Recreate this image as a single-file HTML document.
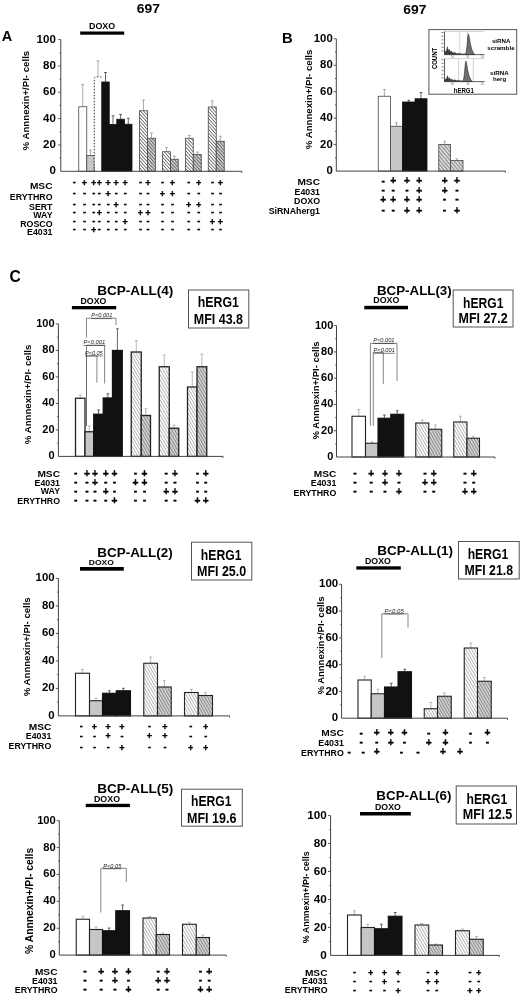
<!DOCTYPE html>
<html lang="en"><head><meta charset="utf-8"><title>Figure</title>
<style>html,body{margin:0;padding:0;background:#fff}svg{display:block}text{font-family:'Liberation Sans', Arial, Helvetica, sans-serif}</style>
</head><body>
<svg width="520" height="995" viewBox="0 0 520 995" font-family='"Liberation Sans", Arial, Helvetica, sans-serif'>
<defs>
<pattern id="hl" width="2.4" height="2.4" patternUnits="userSpaceOnUse" patternTransform="rotate(48)"><rect width="2.4" height="2.4" fill="#ffffff"/><line x1="0" y1="1.2" x2="2.4" y2="1.2" stroke="#2a2a2a" stroke-width="0.6"/></pattern>
<pattern id="hd" width="2.4" height="2.4" patternUnits="userSpaceOnUse" patternTransform="rotate(48)"><rect width="2.4" height="2.4" fill="#cbcbcb"/><line x1="0" y1="1.2" x2="2.4" y2="1.2" stroke="#333" stroke-width="0.6"/></pattern>
<pattern id="hl2" width="2.5" height="2.5" patternUnits="userSpaceOnUse" patternTransform="rotate(60)"><rect width="2.5" height="2.5" fill="#fdfdfd"/><line x1="0" y1="1.25" x2="2.5" y2="1.25" stroke="#7a7a7a" stroke-width="0.5"/></pattern>
<pattern id="hd2" width="2.5" height="2.5" patternUnits="userSpaceOnUse" patternTransform="rotate(60)"><rect width="2.5" height="2.5" fill="#cfcfcf"/><line x1="0" y1="1.25" x2="2.5" y2="1.25" stroke="#5e5e5e" stroke-width="0.55"/></pattern>
<pattern id="hdB" width="5.4" height="5.4" patternUnits="userSpaceOnUse" patternTransform="rotate(50)"><rect width="5.4" height="5.4" fill="#d8d8d8"/><path d="M0 1.35H5.4M0 4.05H5.4" stroke="#505050" stroke-width="0.55"/></pattern>
</defs>
<rect width="520" height="995" fill="#fff"/>
<g id="panelA">
<text x="1.8" y="41.2" font-size="14.5" font-weight="bold" text-anchor="start" fill="#000">A</text>
<text x="136.8" y="13.3" font-size="13.6" font-weight="bold" text-anchor="start" fill="#000" textLength="23.2" lengthAdjust="spacingAndGlyphs">697</text>
<text x="89" y="28.9" font-size="8.8" font-weight="bold" text-anchor="start" fill="#000" textLength="26.2" lengthAdjust="spacingAndGlyphs">DOXO</text>
<rect x="80.2" y="31.5" width="44" height="3.2" fill="#000"/>
<path d="M82.75 106.75V84.5M81.35 84.5H84.15" stroke="#959595" stroke-width="0.8" fill="none"/>
<rect x="78.75" y="106.75" width="8" height="64.55" fill="#fff" stroke="#484848" stroke-width="0.8"/>
<path d="M90.5 155.5V150M89.1 150H91.9" stroke="#959595" stroke-width="0.8" fill="none"/>
<rect x="86.75" y="155.5" width="7.5" height="15.8" fill="#c6c6c6" stroke="#484848" stroke-width="0.8"/>
<path d="M98 76.75V60.75M96.6 60.75H99.4" stroke="#959595" stroke-width="0.8" fill="none"/>
<path d="M94.25 171.3V78.75Q94.25 76.75 96.25 76.75H99.75Q101.75 76.75 101.75 78.75" fill="#fff" stroke="#333" stroke-width="1" stroke-dasharray="1.5 1.5"/>
<path d="M105.5 82V72.5M104.1 72.5H106.9" stroke="#3c3c3c" stroke-width="0.8" fill="none"/>
<rect x="101.75" y="82" width="7.5" height="89.3" fill="#111" stroke="#111" stroke-width="0.8"/>
<path d="M113 124.5V115.75M111.6 115.75H114.4" stroke="#3c3c3c" stroke-width="0.8" fill="none"/>
<rect x="109.25" y="124.5" width="7.5" height="46.8" fill="#111" stroke="#111" stroke-width="0.8"/>
<path d="M120.62 119.25V114.5M119.22 114.5H122.03" stroke="#3c3c3c" stroke-width="0.8" fill="none"/>
<rect x="116.75" y="119.25" width="7.75" height="52.05" fill="#111" stroke="#111" stroke-width="0.8"/>
<path d="M128.25 124.25V118.25M126.85 118.25H129.65" stroke="#3c3c3c" stroke-width="0.8" fill="none"/>
<rect x="124.5" y="124.25" width="7.5" height="47.05" fill="#111" stroke="#111" stroke-width="0.8"/>
<path d="M143.5 110.75V100M142.1 100H144.9" stroke="#959595" stroke-width="0.8" fill="none"/>
<rect x="139.5" y="110.75" width="8" height="60.55" fill="url(#hl)" stroke="#484848" stroke-width="0.8"/>
<path d="M151.5 138.25V133M150.1 133H152.9" stroke="#959595" stroke-width="0.8" fill="none"/>
<rect x="147.5" y="138.25" width="8" height="33.05" fill="url(#hd)" stroke="#484848" stroke-width="0.8"/>
<path d="M166.5 151.75V147.5M165.1 147.5H167.9" stroke="#959595" stroke-width="0.8" fill="none"/>
<rect x="162.5" y="151.75" width="8" height="19.55" fill="url(#hl)" stroke="#484848" stroke-width="0.8"/>
<path d="M174.38 159.25V156.25M172.97 156.25H175.78" stroke="#959595" stroke-width="0.8" fill="none"/>
<rect x="170.5" y="159.25" width="7.75" height="12.05" fill="url(#hd)" stroke="#484848" stroke-width="0.8"/>
<path d="M189.38 138.25V135.5M187.97 135.5H190.78" stroke="#959595" stroke-width="0.8" fill="none"/>
<rect x="185.5" y="138.25" width="7.75" height="33.05" fill="url(#hl)" stroke="#484848" stroke-width="0.8"/>
<path d="M197.25 154.5V152M195.85 152H198.65" stroke="#959595" stroke-width="0.8" fill="none"/>
<rect x="193.25" y="154.5" width="8" height="16.8" fill="url(#hd)" stroke="#484848" stroke-width="0.8"/>
<path d="M212.25 107V100.75M210.85 100.75H213.65" stroke="#959595" stroke-width="0.8" fill="none"/>
<rect x="208.25" y="107" width="8" height="64.3" fill="url(#hl)" stroke="#484848" stroke-width="0.8"/>
<path d="M220.25 141.25V136.25M218.85 136.25H221.65" stroke="#959595" stroke-width="0.8" fill="none"/>
<rect x="216.25" y="141.25" width="8" height="30.05" fill="url(#hd)" stroke="#484848" stroke-width="0.8"/>
<path d="M60.8 39.6V171.3H241.75v1.5" stroke="#444" stroke-width="1" fill="none"/>
<path d="M60.8 158.13h-1.3M60.8 144.96h-2.6M60.8 131.79h-1.3M60.8 118.62h-2.6M60.8 105.45h-1.3M60.8 92.28h-2.6M60.8 79.11h-1.3M60.8 65.94h-2.6M60.8 52.77h-1.3M60.8 39.6h-2.6" stroke="#444" stroke-width="0.9" fill="none"/>
<text x="55.8" y="174.42" font-size="11.5" font-weight="bold" text-anchor="end" fill="#000">0</text>
<text x="55.8" y="148.08" font-size="11.5" font-weight="bold" text-anchor="end" fill="#000">20</text>
<text x="55.8" y="121.74" font-size="11.5" font-weight="bold" text-anchor="end" fill="#000">40</text>
<text x="55.8" y="95.4" font-size="11.5" font-weight="bold" text-anchor="end" fill="#000">60</text>
<text x="55.8" y="69.06" font-size="11.5" font-weight="bold" text-anchor="end" fill="#000">80</text>
<text x="55.8" y="42.72" font-size="11.5" font-weight="bold" text-anchor="end" fill="#000">100</text>
<text transform="translate(29.2,150.4) rotate(-90)" font-size="9.9" font-weight="bold" textLength="99.6" lengthAdjust="spacingAndGlyphs">% Annnexin+/PI- cells</text>
<text x="29.9" y="188.75" font-size="8.8" font-weight="bold" text-anchor="start" fill="#000" textLength="22.6" lengthAdjust="spacingAndGlyphs">MSC</text>
<text x="52.5" y="199.6" font-size="8.8" font-weight="bold" text-anchor="end" fill="#000">ERYTHRO</text>
<text x="52.5" y="210.3" font-size="8.8" font-weight="bold" text-anchor="end" fill="#000">SERT</text>
<text x="52.5" y="218" font-size="8.8" font-weight="bold" text-anchor="end" fill="#000">WAY</text>
<text x="52.5" y="226.9" font-size="8.8" font-weight="bold" text-anchor="end" fill="#000">ROSCO</text>
<text x="52.5" y="235.1" font-size="8.8" font-weight="bold" text-anchor="end" fill="#000">E4031</text>
<g font-size="9.04" font-weight="bold" text-anchor="middle" fill="#000" stroke="#000" stroke-width="0.35"><text x="84.5" y="186.03">+</text><text x="93.75" y="186.03">+</text><text x="99.3" y="186.03">+</text><text x="108.25" y="186.03">+</text><text x="116.25" y="186.03">+</text><text x="125.2" y="186.03">+</text><text x="148" y="186.03">+</text><text x="172.5" y="186.03">+</text><text x="198.75" y="186.03">+</text><text x="220.5" y="186.03">+</text><text x="108.25" y="196.53">+</text><text x="162.5" y="196.53">+</text><text x="172.5" y="196.53">+</text><text x="116.25" y="207.53">+</text><text x="188.75" y="207.53">+</text><text x="198.75" y="207.53">+</text><text x="99.3" y="216.03">+</text><text x="140.5" y="216.03">+</text><text x="148" y="216.03">+</text><text x="125.2" y="225.03">+</text><text x="212.5" y="225.03">+</text><text x="220.5" y="225.03">+</text><text x="93.75" y="233.03">+</text></g>
<g font-size="9.2" font-weight="bold" text-anchor="middle" fill="#000" stroke="#000" stroke-width="0.35"><text x="74.25" y="185.39">-</text><text x="140.5" y="185.39">-</text><text x="162.5" y="185.39">-</text><text x="188.75" y="185.39">-</text><text x="212.5" y="185.39">-</text><text x="74.25" y="195.89">-</text><text x="84.5" y="195.89">-</text><text x="93.75" y="195.89">-</text><text x="99.3" y="195.89">-</text><text x="116.25" y="195.89">-</text><text x="125.2" y="195.89">-</text><text x="140.5" y="195.89">-</text><text x="148" y="195.89">-</text><text x="188.75" y="195.89">-</text><text x="198.75" y="195.89">-</text><text x="212.5" y="195.89">-</text><text x="220.5" y="195.89">-</text><text x="74.25" y="206.89">-</text><text x="84.5" y="206.89">-</text><text x="93.75" y="206.89">-</text><text x="99.3" y="206.89">-</text><text x="108.25" y="206.89">-</text><text x="125.2" y="206.89">-</text><text x="140.5" y="206.89">-</text><text x="148" y="206.89">-</text><text x="162.5" y="206.89">-</text><text x="172.5" y="206.89">-</text><text x="212.5" y="206.89">-</text><text x="220.5" y="206.89">-</text><text x="74.25" y="215.39">-</text><text x="84.5" y="215.39">-</text><text x="93.75" y="215.39">-</text><text x="108.25" y="215.39">-</text><text x="116.25" y="215.39">-</text><text x="125.2" y="215.39">-</text><text x="162.5" y="215.39">-</text><text x="172.5" y="215.39">-</text><text x="188.75" y="215.39">-</text><text x="198.75" y="215.39">-</text><text x="212.5" y="215.39">-</text><text x="220.5" y="215.39">-</text><text x="74.25" y="224.39">-</text><text x="84.5" y="224.39">-</text><text x="93.75" y="224.39">-</text><text x="99.3" y="224.39">-</text><text x="108.25" y="224.39">-</text><text x="116.25" y="224.39">-</text><text x="140.5" y="224.39">-</text><text x="148" y="224.39">-</text><text x="162.5" y="224.39">-</text><text x="172.5" y="224.39">-</text><text x="188.75" y="224.39">-</text><text x="198.75" y="224.39">-</text><text x="74.25" y="232.39">-</text><text x="84.5" y="232.39">-</text><text x="99.3" y="232.39">-</text><text x="108.25" y="232.39">-</text><text x="116.25" y="232.39">-</text><text x="125.2" y="232.39">-</text><text x="140.5" y="232.39">-</text><text x="148" y="232.39">-</text><text x="162.5" y="232.39">-</text><text x="172.5" y="232.39">-</text><text x="188.75" y="232.39">-</text><text x="198.75" y="232.39">-</text><text x="212.5" y="232.39">-</text><text x="220.5" y="232.39">-</text></g>
</g>
<g id="panelB">
<text x="282" y="42.6" font-size="14.8" font-weight="bold" text-anchor="start" fill="#000">B</text>
<text x="403.2" y="13.5" font-size="13.6" font-weight="bold" text-anchor="start" fill="#000" textLength="23.2" lengthAdjust="spacingAndGlyphs">697</text>
<path d="M384.38 96.25V89.5M382.98 89.5H385.77" stroke="#959595" stroke-width="0.8" fill="none"/>
<rect x="378.25" y="96.25" width="12.25" height="74.85" fill="#fff" stroke="#484848" stroke-width="0.8"/>
<path d="M396.5 126.25V122.75M395.1 122.75H397.9" stroke="#959595" stroke-width="0.8" fill="none"/>
<rect x="390.5" y="126.25" width="12" height="44.85" fill="#c6c6c6" stroke="#484848" stroke-width="0.8"/>
<path d="M408.75 102V100.3M407.35 100.3H410.15" stroke="#3c3c3c" stroke-width="0.8" fill="none"/>
<rect x="402.5" y="102" width="12.5" height="69.1" fill="#111" stroke="#111" stroke-width="0.8"/>
<path d="M421 98.75V92.5M419.6 92.5H422.4" stroke="#3c3c3c" stroke-width="0.8" fill="none"/>
<rect x="415" y="98.75" width="12" height="72.35" fill="#111" stroke="#111" stroke-width="0.8"/>
<path d="M444.68 144.5V141.25M443.28 141.25H446.07" stroke="#959595" stroke-width="0.8" fill="none"/>
<rect x="438.75" y="144.5" width="11.85" height="26.6" fill="url(#hdB)" stroke="#484848" stroke-width="0.8"/>
<path d="M456.8 160.5V158.75M455.4 158.75H458.2" stroke="#959595" stroke-width="0.8" fill="none"/>
<rect x="450.6" y="160.5" width="12.4" height="10.6" fill="url(#hdB)" stroke="#484848" stroke-width="0.8"/>
<path d="M336.3 38.8V171.1H505.4v1.5" stroke="#444" stroke-width="1" fill="none"/>
<path d="M336.3 157.87h-1.3M336.3 144.64h-2.6M336.3 131.41h-1.3M336.3 118.18h-2.6M336.3 104.95h-1.3M336.3 91.72h-2.6M336.3 78.49h-1.3M336.3 65.26h-2.6M336.3 52.03h-1.3M336.3 38.8h-2.6" stroke="#444" stroke-width="0.9" fill="none"/>
<text x="332.7" y="174.15" font-size="11.3" font-weight="bold" text-anchor="end" fill="#000">0</text>
<text x="332.7" y="147.69" font-size="11.3" font-weight="bold" text-anchor="end" fill="#000">20</text>
<text x="332.7" y="121.23" font-size="11.3" font-weight="bold" text-anchor="end" fill="#000">40</text>
<text x="332.7" y="94.77" font-size="11.3" font-weight="bold" text-anchor="end" fill="#000">60</text>
<text x="332.7" y="68.31" font-size="11.3" font-weight="bold" text-anchor="end" fill="#000">80</text>
<text x="332.7" y="41.85" font-size="11.3" font-weight="bold" text-anchor="end" fill="#000">100</text>
<text transform="translate(312.1,149.2) rotate(-90)" font-size="9.9" font-weight="bold" textLength="99.6" lengthAdjust="spacingAndGlyphs">% Annnexin+/PI- cells</text>
<text x="297.4" y="185" font-size="8.8" font-weight="bold" text-anchor="start" fill="#000" textLength="22.6" lengthAdjust="spacingAndGlyphs">MSC</text>
<text x="320" y="194.5" font-size="8.8" font-weight="bold" text-anchor="end" fill="#000">E4031</text>
<text x="320" y="204.25" font-size="8.8" font-weight="bold" text-anchor="end" fill="#000">DOXO</text>
<text x="320" y="214.25" font-size="8.8" font-weight="bold" text-anchor="end" fill="#000">SiRNAherg1</text>
<g font-size="10.17" font-weight="bold" text-anchor="middle" fill="#000" stroke="#000" stroke-width="0.35"><text x="393.25" y="184.41">+</text><text x="407" y="184.41">+</text><text x="419.25" y="184.41">+</text><text x="444.6" y="184.41">+</text><text x="456.9" y="184.41">+</text><text x="419.25" y="193.71">+</text><text x="444.6" y="193.71">+</text><text x="383.25" y="202.91">+</text><text x="393.25" y="202.91">+</text><text x="407" y="202.91">+</text><text x="419.25" y="202.91">+</text><text x="407" y="213.61">+</text><text x="419.25" y="213.61">+</text><text x="456.9" y="213.61">+</text></g>
<g font-size="10.35" font-weight="bold" text-anchor="middle" fill="#000" stroke="#000" stroke-width="0.35"><text x="383.25" y="183.69">-</text><text x="383.25" y="192.99">-</text><text x="393.25" y="192.99">-</text><text x="407" y="192.99">-</text><text x="456.9" y="192.99">-</text><text x="444.6" y="202.19">-</text><text x="456.9" y="202.19">-</text><text x="383.25" y="212.89">-</text><text x="393.25" y="212.89">-</text><text x="444.6" y="212.89">-</text></g>
<rect x="428.9" y="29.6" width="87.8" height="64.6" fill="#fff" stroke="#555" stroke-width="1"/>
<path d="M444.5 31.5H484.5" stroke="#bbb" stroke-width="0.6" fill="none"/>
<path d="M459.8 31.5V54.6" stroke="#b4b4b4" stroke-width="0.6"/>
<path d="M467.6 31.5V54.6" stroke="#b4b4b4" stroke-width="0.6"/>
<path d="M444.5 54.6V50.6L445.5 51.8L446.5 50.2L447.5 46.6L448.3 51L449.3 49L450.3 51.8L451.5 51L453 53L454.5 52.2L456.5 53.6L459.5 53.4L462.5 54L464.5 53.8L465.5 54.6Z" fill="#3c3c3c" stroke="#333" stroke-width="0.4"/>
<path d="M465.3 54.6L466.3 51.6L467.1 44.6L467.8 36.5L468.5 33.9L469.3 37.5L470.3 43.6L471.5 48.6L472.9 52.1L474.7 54.6Z" fill="#6e6e6e" stroke="#2c2c2c" stroke-width="0.6"/>
<path d="M444.5 31.5V54.6H484.5" stroke="#333" stroke-width="0.8" fill="none"/>
<path d="M443.5 32.5h-2M443.5 36.18h-2M443.5 39.87h-2M443.5 43.55h-2M443.5 47.23h-2M443.5 50.92h-2" stroke="#444" stroke-width="0.7" fill="none"/>
<text x="452.5" y="57.7" font-size="2.6" font-weight="normal" text-anchor="middle" fill="#555">10</text>
<text x="467.8" y="57.7" font-size="2.6" font-weight="normal" text-anchor="middle" fill="#555">10</text>
<text x="482.5" y="57.7" font-size="2.6" font-weight="normal" text-anchor="middle" fill="#555">10</text>
<path d="M444.5 58.6H484.5" stroke="#bbb" stroke-width="0.6" fill="none"/>
<path d="M458.6 58.6V81.6" stroke="#b4b4b4" stroke-width="0.6"/>
<path d="M473.4 58.6V81.6" stroke="#b4b4b4" stroke-width="0.6"/>
<path d="M444.5 81.6V78.6L445.5 79.5L446.5 78.3L447.5 75.6L448.3 78.9L449.3 77.4L450.3 79.5L451.5 78.9L453 80.4L454.5 79.8L456.5 80.6L459.5 80.4L462.5 81L462 80.8L463 81.6Z" fill="#3c3c3c" stroke="#333" stroke-width="0.4"/>
<path d="M462.8 81.6L463.8 78.6L464.6 71.6L465.3 63.6L466 61L466.8 64.6L467.8 70.6L469 75.6L470.4 79.1L472.2 81.6Z" fill="#6e6e6e" stroke="#2c2c2c" stroke-width="0.6"/>
<path d="M444.5 58.6V81.6H484.5" stroke="#333" stroke-width="0.8" fill="none"/>
<path d="M443.5 59.6h-2M443.5 63.27h-2M443.5 66.93h-2M443.5 70.6h-2M443.5 74.27h-2M443.5 77.93h-2" stroke="#444" stroke-width="0.7" fill="none"/>
<text x="452.5" y="84.7" font-size="2.6" font-weight="normal" text-anchor="middle" fill="#555">10</text>
<text x="467.8" y="84.7" font-size="2.6" font-weight="normal" text-anchor="middle" fill="#555">10</text>
<text x="482.5" y="84.7" font-size="2.6" font-weight="normal" text-anchor="middle" fill="#555">10</text>
<text transform="translate(436.6,69.1) rotate(-90)" font-size="7" font-weight="bold" textLength="21.2" lengthAdjust="spacingAndGlyphs">COUNT</text>
<text x="453.7" y="93" font-size="6.8" font-weight="bold" text-anchor="start" fill="#000" textLength="20.3" lengthAdjust="spacingAndGlyphs">hERG1</text>
<text x="491.9" y="42.6" font-size="6.1" font-weight="bold" text-anchor="start" fill="#000" textLength="18.5" lengthAdjust="spacingAndGlyphs">siRNA</text>
<text x="487.3" y="49.5" font-size="6.1" font-weight="bold" text-anchor="start" fill="#000" textLength="27.3" lengthAdjust="spacingAndGlyphs">scramble</text>
<text x="490" y="74.5" font-size="6.1" font-weight="bold" text-anchor="start" fill="#000" textLength="18.8" lengthAdjust="spacingAndGlyphs">siRNA</text>
<text x="493" y="81" font-size="6.1" font-weight="bold" text-anchor="start" fill="#000" textLength="13.2" lengthAdjust="spacingAndGlyphs">herg</text>
</g>
<g id="panelC4">
<text x="9.6" y="282" font-size="15.6" font-weight="bold" text-anchor="start" fill="#000">C</text>
<text x="97.2" y="294.5" font-size="13.4" font-weight="bold" text-anchor="start" fill="#000" textLength="76.1" lengthAdjust="spacingAndGlyphs">BCP-ALL(4)</text>
<text x="80.5" y="303.8" font-size="8.4" font-weight="bold" text-anchor="start" fill="#000" textLength="25.8" lengthAdjust="spacingAndGlyphs">DOXO</text>
<rect x="71.9" y="306" width="44.3" height="3.3" fill="#000"/>
<rect x="188.5" y="290" width="60.3" height="38" fill="#fff" stroke="#555" stroke-width="1"/>
<text x="197.7" y="306.9" font-size="14.3" font-weight="bold" text-anchor="start" fill="#000" textLength="41.2" lengthAdjust="spacingAndGlyphs">hERG1</text>
<text x="193.8" y="323.5" font-size="14.3" font-weight="bold" text-anchor="start" fill="#000" textLength="49.2" lengthAdjust="spacingAndGlyphs">MFI 43.8</text>
<path d="M86.5 337.6V318.2H116V325" stroke="#666" stroke-width="0.8" fill="none"/>
<text x="91.3" y="317.49" font-size="5.8" font-weight="normal" text-anchor="start" fill="#222" textLength="21" lengthAdjust="spacingAndGlyphs" font-style="italic" text-decoration="underline">P&lt;0.001</text>
<path d="M86.5 426V345.2H104.6V383.5" stroke="#666" stroke-width="0.8" fill="none"/>
<text x="83.5" y="344.39" font-size="5.8" font-weight="normal" text-anchor="start" fill="#222" textLength="21.7" lengthAdjust="spacingAndGlyphs" font-style="italic" text-decoration="underline">P&lt;0.001</text>
<path d="M86.5 426V355.8H96.9V382.7" stroke="#666" stroke-width="0.8" fill="none"/>
<text x="85" y="354.69" font-size="5.8" font-weight="normal" text-anchor="start" fill="#222" textLength="17.7" lengthAdjust="spacingAndGlyphs" font-style="italic" text-decoration="underline">P&lt;0.05</text>
<path d="M80.25 398.25V395M78.85 395H81.65" stroke="#a4a4a4" stroke-width="0.8" fill="none"/>
<rect x="75.5" y="398.25" width="9.5" height="58.15" fill="#fff" stroke="#222" stroke-width="1.3"/>
<path d="M89.38 431.75V426M87.97 426H90.78" stroke="#a4a4a4" stroke-width="0.8" fill="none"/>
<rect x="85" y="431.75" width="8.75" height="24.65" fill="#c6c6c6" stroke="#222" stroke-width="1.3"/>
<path d="M98.5 414.25V410M97.1 410H99.9" stroke="#3c3c3c" stroke-width="0.8" fill="none"/>
<rect x="93.75" y="414.25" width="9.5" height="42.15" fill="#111" stroke="#111" stroke-width="1.3"/>
<path d="M107.88 398V393.75M106.47 393.75H109.28" stroke="#3c3c3c" stroke-width="0.8" fill="none"/>
<rect x="103.25" y="398" width="9.25" height="58.4" fill="#111" stroke="#111" stroke-width="1.3"/>
<path d="M117.38 350.5V328.75M115.97 328.75H118.78" stroke="#3c3c3c" stroke-width="0.8" fill="none"/>
<rect x="112.5" y="350.5" width="9.75" height="105.9" fill="#111" stroke="#111" stroke-width="1.3"/>
<path d="M136.25 352V340.5M134.85 340.5H137.65" stroke="#a4a4a4" stroke-width="0.8" fill="none"/>
<rect x="131.25" y="352" width="10" height="104.4" fill="url(#hl2)" stroke="#222" stroke-width="1.3"/>
<path d="M145.88 415.5V408.75M144.47 408.75H147.28" stroke="#a4a4a4" stroke-width="0.8" fill="none"/>
<rect x="141.25" y="415.5" width="9.25" height="40.9" fill="url(#hd2)" stroke="#222" stroke-width="1.3"/>
<path d="M164.25 366.75V355M162.85 355H165.65" stroke="#a4a4a4" stroke-width="0.8" fill="none"/>
<rect x="159.25" y="366.75" width="10" height="89.65" fill="url(#hl2)" stroke="#222" stroke-width="1.3"/>
<path d="M174 428.25V425M172.6 425H175.4" stroke="#a4a4a4" stroke-width="0.8" fill="none"/>
<rect x="169.25" y="428.25" width="9.5" height="28.15" fill="url(#hd2)" stroke="#222" stroke-width="1.3"/>
<path d="M192.25 387V372M190.85 372H193.65" stroke="#a4a4a4" stroke-width="0.8" fill="none"/>
<rect x="187.5" y="387" width="9.5" height="69.4" fill="url(#hl2)" stroke="#222" stroke-width="1.3"/>
<path d="M201.88 366.75V354.25M200.47 354.25H203.28" stroke="#a4a4a4" stroke-width="0.8" fill="none"/>
<rect x="197" y="366.75" width="9.75" height="89.65" fill="url(#hd2)" stroke="#222" stroke-width="1.3"/>
<path d="M58.4 323.9V456.4H223v1.5" stroke="#444" stroke-width="1" fill="none"/>
<path d="M58.4 443.15h-1.3M58.4 429.9h-2.6M58.4 416.65h-1.3M58.4 403.4h-2.6M58.4 390.15h-1.3M58.4 376.9h-2.6M58.4 363.65h-1.3M58.4 350.4h-2.6M58.4 337.15h-1.3M58.4 323.9h-2.6" stroke="#444" stroke-width="0.9" fill="none"/>
<text x="54.6" y="459.34" font-size="11" font-weight="bold" text-anchor="end" fill="#000">0</text>
<text x="54.6" y="432.84" font-size="11" font-weight="bold" text-anchor="end" fill="#000">20</text>
<text x="54.6" y="406.34" font-size="11" font-weight="bold" text-anchor="end" fill="#000">40</text>
<text x="54.6" y="379.84" font-size="11" font-weight="bold" text-anchor="end" fill="#000">60</text>
<text x="54.6" y="353.34" font-size="11" font-weight="bold" text-anchor="end" fill="#000">80</text>
<text x="54.6" y="326.84" font-size="11" font-weight="bold" text-anchor="end" fill="#000">100</text>
<text transform="translate(31.2,444.2) rotate(-90)" font-size="9.9" font-weight="bold" textLength="99.6" lengthAdjust="spacingAndGlyphs">% Annnexin+/PI- cells</text>
<text x="37.4" y="476.75" font-size="8.8" font-weight="bold" text-anchor="start" fill="#000" textLength="22.6" lengthAdjust="spacingAndGlyphs">MSC</text>
<text x="60" y="485.5" font-size="8.8" font-weight="bold" text-anchor="end" fill="#000">E4031</text>
<text x="60" y="493.75" font-size="8.8" font-weight="bold" text-anchor="end" fill="#000">WAY</text>
<text x="60" y="503.75" font-size="8.8" font-weight="bold" text-anchor="end" fill="#000">ERYTHRO</text>
<g font-size="10.17" font-weight="bold" text-anchor="middle" fill="#000" stroke="#000" stroke-width="0.35"><text x="87" y="476.91">+</text><text x="95" y="476.91">+</text><text x="105.75" y="476.91">+</text><text x="114.5" y="476.91">+</text><text x="144.5" y="476.91">+</text><text x="175" y="476.91">+</text><text x="205.75" y="476.91">+</text><text x="95" y="485.66">+</text><text x="135.5" y="485.66">+</text><text x="144.5" y="485.66">+</text><text x="105.75" y="495.16">+</text><text x="166.25" y="495.16">+</text><text x="175" y="495.16">+</text><text x="114.5" y="504.01">+</text><text x="197.5" y="504.01">+</text><text x="205.75" y="504.01">+</text></g>
<g font-size="10.35" font-weight="bold" text-anchor="middle" fill="#000" stroke="#000" stroke-width="0.35"><text x="75.75" y="476.19">-</text><text x="135.5" y="476.19">-</text><text x="166.25" y="476.19">-</text><text x="197.5" y="476.19">-</text><text x="75.75" y="484.94">-</text><text x="87" y="484.94">-</text><text x="105.75" y="484.94">-</text><text x="114.5" y="484.94">-</text><text x="166.25" y="484.94">-</text><text x="175" y="484.94">-</text><text x="197.5" y="484.94">-</text><text x="205.75" y="484.94">-</text><text x="75.75" y="494.44">-</text><text x="87" y="494.44">-</text><text x="95" y="494.44">-</text><text x="114.5" y="494.44">-</text><text x="135.5" y="494.44">-</text><text x="144.5" y="494.44">-</text><text x="197.5" y="494.44">-</text><text x="205.75" y="494.44">-</text><text x="75.75" y="503.29">-</text><text x="87" y="503.29">-</text><text x="95" y="503.29">-</text><text x="105.75" y="503.29">-</text><text x="135.5" y="503.29">-</text><text x="144.5" y="503.29">-</text><text x="166.25" y="503.29">-</text><text x="175" y="503.29">-</text></g>
</g>
<g id="panelC3">
<text x="377" y="294.8" font-size="13.4" font-weight="bold" text-anchor="start" fill="#000" textLength="74.7" lengthAdjust="spacingAndGlyphs">BCP-ALL(3)</text>
<text x="373.3" y="303.3" font-size="8.4" font-weight="bold" text-anchor="start" fill="#000" textLength="26" lengthAdjust="spacingAndGlyphs">DOXO</text>
<rect x="364.3" y="305.8" width="43.7" height="3.5" fill="#000"/>
<rect x="453.2" y="290" width="59.8" height="37" fill="#fff" stroke="#555" stroke-width="1"/>
<text x="463" y="307.5" font-size="14.3" font-weight="bold" text-anchor="start" fill="#000" textLength="40.4" lengthAdjust="spacingAndGlyphs">hERG1</text>
<text x="458.5" y="323" font-size="14.3" font-weight="bold" text-anchor="start" fill="#000" textLength="49.2" lengthAdjust="spacingAndGlyphs">MFI 27.2</text>
<path d="M370.4 425.8V343.3H397V380.8" stroke="#666" stroke-width="0.8" fill="none"/>
<text x="373.3" y="342.29" font-size="5.8" font-weight="normal" text-anchor="start" fill="#222" textLength="21.2" lengthAdjust="spacingAndGlyphs" font-style="italic" text-decoration="underline">P&lt;0.001</text>
<path d="M373.3 425.8V352.5H383.3V383.8" stroke="#666" stroke-width="0.8" fill="none"/>
<text x="373.6" y="351.89" font-size="5.8" font-weight="normal" text-anchor="start" fill="#222" textLength="21.2" lengthAdjust="spacingAndGlyphs" font-style="italic" text-decoration="underline">P&lt;0.001</text>
<path d="M358.75 416.25V409.5M357.35 409.5H360.15" stroke="#a4a4a4" stroke-width="0.8" fill="none"/>
<rect x="352" y="416.25" width="13.5" height="40.75" fill="#fff" stroke="#222" stroke-width="1.1"/>
<path d="M371.75 443.25V441.8M370.35 441.8H373.15" stroke="#a4a4a4" stroke-width="0.8" fill="none"/>
<rect x="365.5" y="443.25" width="12.5" height="13.75" fill="#c6c6c6" stroke="#222" stroke-width="1.1"/>
<path d="M384.38 418.25V415M382.98 415H385.77" stroke="#3c3c3c" stroke-width="0.8" fill="none"/>
<rect x="378" y="418.25" width="12.75" height="38.75" fill="#111" stroke="#111" stroke-width="1.1"/>
<path d="M397.25 414.25V410.75M395.85 410.75H398.65" stroke="#3c3c3c" stroke-width="0.8" fill="none"/>
<rect x="390.75" y="414.25" width="13" height="42.75" fill="#111" stroke="#111" stroke-width="1.1"/>
<path d="M422.25 423V420M420.85 420H423.65" stroke="#a4a4a4" stroke-width="0.8" fill="none"/>
<rect x="415.75" y="423" width="13" height="34" fill="url(#hl2)" stroke="#222" stroke-width="1.1"/>
<path d="M435.25 429.25V425M433.85 425H436.65" stroke="#a4a4a4" stroke-width="0.8" fill="none"/>
<rect x="428.75" y="429.25" width="13" height="27.75" fill="url(#hd2)" stroke="#222" stroke-width="1.1"/>
<path d="M460.38 422V416.25M458.98 416.25H461.77" stroke="#a4a4a4" stroke-width="0.8" fill="none"/>
<rect x="453.75" y="422" width="13.25" height="35" fill="url(#hl2)" stroke="#222" stroke-width="1.1"/>
<path d="M473.25 438.25V436.25M471.85 436.25H474.65" stroke="#a4a4a4" stroke-width="0.8" fill="none"/>
<rect x="467" y="438.25" width="12.5" height="18.75" fill="url(#hd2)" stroke="#222" stroke-width="1.1"/>
<path d="M336.5 325.6V457H495v1.5" stroke="#444" stroke-width="1" fill="none"/>
<path d="M336.5 443.86h-1.3M336.5 430.72h-2.6M336.5 417.58h-1.3M336.5 404.44h-2.6M336.5 391.3h-1.3M336.5 378.16h-2.6M336.5 365.02h-1.3M336.5 351.88h-2.6M336.5 338.74h-1.3M336.5 325.6h-2.6" stroke="#444" stroke-width="0.9" fill="none"/>
<text x="333.3" y="459.94" font-size="11" font-weight="bold" text-anchor="end" fill="#000">0</text>
<text x="333.3" y="433.66" font-size="11" font-weight="bold" text-anchor="end" fill="#000">20</text>
<text x="333.3" y="407.38" font-size="11" font-weight="bold" text-anchor="end" fill="#000">40</text>
<text x="333.3" y="381.1" font-size="11" font-weight="bold" text-anchor="end" fill="#000">60</text>
<text x="333.3" y="354.82" font-size="11" font-weight="bold" text-anchor="end" fill="#000">80</text>
<text x="333.3" y="328.54" font-size="11" font-weight="bold" text-anchor="end" fill="#000">100</text>
<text transform="translate(318.7,439.4) rotate(-90)" font-size="9.9" font-weight="bold" textLength="98" lengthAdjust="spacingAndGlyphs">% Annnexin+/PI- cells</text>
<text x="313.7" y="476.75" font-size="8.8" font-weight="bold" text-anchor="start" fill="#000" textLength="22.6" lengthAdjust="spacingAndGlyphs">MSC</text>
<text x="336.3" y="485.5" font-size="8.8" font-weight="bold" text-anchor="end" fill="#000">E4031</text>
<text x="336.3" y="495.75" font-size="8.8" font-weight="bold" text-anchor="end" fill="#000">ERYTHRO</text>
<g font-size="10.17" font-weight="bold" text-anchor="middle" fill="#000" stroke="#000" stroke-width="0.35"><text x="371.25" y="477.16">+</text><text x="385" y="477.16">+</text><text x="398.9" y="477.16">+</text><text x="433.75" y="477.16">+</text><text x="473.75" y="477.16">+</text><text x="385" y="485.91">+</text><text x="425" y="485.91">+</text><text x="433.75" y="485.91">+</text><text x="398.9" y="495.16">+</text><text x="465" y="495.16">+</text><text x="473.75" y="495.16">+</text></g>
<g font-size="10.35" font-weight="bold" text-anchor="middle" fill="#000" stroke="#000" stroke-width="0.35"><text x="355" y="476.44">-</text><text x="425" y="476.44">-</text><text x="465" y="476.44">-</text><text x="355" y="485.19">-</text><text x="371.25" y="485.19">-</text><text x="398.9" y="485.19">-</text><text x="465" y="485.19">-</text><text x="473.75" y="485.19">-</text><text x="355" y="494.44">-</text><text x="371.25" y="494.44">-</text><text x="385" y="494.44">-</text><text x="425" y="494.44">-</text><text x="433.75" y="494.44">-</text></g>
</g>
<g id="panelC2">
<text x="97.3" y="556.5" font-size="13.4" font-weight="bold" text-anchor="start" fill="#000" textLength="75.4" lengthAdjust="spacingAndGlyphs">BCP-ALL(2)</text>
<text x="88.8" y="565" font-size="7.8" font-weight="bold" text-anchor="start" fill="#000" textLength="25" lengthAdjust="spacingAndGlyphs">DOXO</text>
<rect x="80" y="567" width="43.8" height="3.7" fill="#000"/>
<rect x="191.5" y="542.2" width="60.3" height="37.8" fill="#fff" stroke="#555" stroke-width="1"/>
<text x="200.8" y="559.6" font-size="14.3" font-weight="bold" text-anchor="start" fill="#000" textLength="40.7" lengthAdjust="spacingAndGlyphs">hERG1</text>
<text x="197" y="575.8" font-size="14.3" font-weight="bold" text-anchor="start" fill="#000" textLength="49.2" lengthAdjust="spacingAndGlyphs">MFI 25.0</text>
<path d="M82.5 673.25V669.5M81.1 669.5H83.9" stroke="#a4a4a4" stroke-width="0.8" fill="none"/>
<rect x="75.5" y="673.25" width="14" height="42.65" fill="#fff" stroke="#222" stroke-width="1.1"/>
<path d="M96 700.75V698.25M94.6 698.25H97.4" stroke="#a4a4a4" stroke-width="0.8" fill="none"/>
<rect x="89.5" y="700.75" width="13" height="15.15" fill="#c6c6c6" stroke="#222" stroke-width="1.1"/>
<path d="M109.38 693.25V690.75M107.97 690.75H110.78" stroke="#3c3c3c" stroke-width="0.8" fill="none"/>
<rect x="102.5" y="693.25" width="13.75" height="22.65" fill="#111" stroke="#111" stroke-width="1.1"/>
<path d="M123.38 690.75V688.25M121.97 688.25H124.78" stroke="#3c3c3c" stroke-width="0.8" fill="none"/>
<rect x="116.25" y="690.75" width="14.25" height="25.15" fill="#111" stroke="#111" stroke-width="1.1"/>
<path d="M150.62 663.25V657M149.22 657H152.03" stroke="#a4a4a4" stroke-width="0.8" fill="none"/>
<rect x="143.75" y="663.25" width="13.75" height="52.65" fill="url(#hl2)" stroke="#222" stroke-width="1.1"/>
<path d="M164.38 687V680.5M162.97 680.5H165.78" stroke="#a4a4a4" stroke-width="0.8" fill="none"/>
<rect x="157.5" y="687" width="13.75" height="28.9" fill="url(#hd2)" stroke="#222" stroke-width="1.1"/>
<path d="M191.38 692.5V689.5M189.97 689.5H192.78" stroke="#a4a4a4" stroke-width="0.8" fill="none"/>
<rect x="184.5" y="692.5" width="13.75" height="23.4" fill="url(#hl2)" stroke="#222" stroke-width="1.1"/>
<path d="M205.38 695.5V692.5M203.97 692.5H206.78" stroke="#a4a4a4" stroke-width="0.8" fill="none"/>
<rect x="198.25" y="695.5" width="14.25" height="20.4" fill="url(#hd2)" stroke="#222" stroke-width="1.1"/>
<path d="M58.4 578.4V715.9H229.5v1.5" stroke="#444" stroke-width="1" fill="none"/>
<path d="M58.4 702.15h-1.3M58.4 688.4h-2.6M58.4 674.65h-1.3M58.4 660.9h-2.6M58.4 647.15h-1.3M58.4 633.4h-2.6M58.4 619.65h-1.3M58.4 605.9h-2.6M58.4 592.15h-1.3M58.4 578.4h-2.6" stroke="#444" stroke-width="0.9" fill="none"/>
<text x="54.6" y="718.98" font-size="11.4" font-weight="bold" text-anchor="end" fill="#000">0</text>
<text x="54.6" y="691.48" font-size="11.4" font-weight="bold" text-anchor="end" fill="#000">20</text>
<text x="54.6" y="663.98" font-size="11.4" font-weight="bold" text-anchor="end" fill="#000">40</text>
<text x="54.6" y="636.48" font-size="11.4" font-weight="bold" text-anchor="end" fill="#000">60</text>
<text x="54.6" y="608.98" font-size="11.4" font-weight="bold" text-anchor="end" fill="#000">80</text>
<text x="54.6" y="581.48" font-size="11.4" font-weight="bold" text-anchor="end" fill="#000">100</text>
<text transform="translate(30,696.2) rotate(-90)" font-size="9.9" font-weight="bold" textLength="98.9" lengthAdjust="spacingAndGlyphs">% Annnexin+/PI- cells</text>
<text x="28.7" y="730" font-size="8.8" font-weight="bold" text-anchor="start" fill="#000" textLength="22.6" lengthAdjust="spacingAndGlyphs">MSC</text>
<text x="51.3" y="739.25" font-size="8.8" font-weight="bold" text-anchor="end" fill="#000">E4031</text>
<text x="51.3" y="749.25" font-size="8.8" font-weight="bold" text-anchor="end" fill="#000">ERYTHRO</text>
<g font-size="9.04" font-weight="bold" text-anchor="middle" fill="#000" stroke="#000" stroke-width="0.35"><text x="94.5" y="730.03">+</text><text x="108.25" y="730.03">+</text><text x="122" y="730.03">+</text><text x="165" y="730.03">+</text><text x="205.75" y="730.03">+</text><text x="108.25" y="739.28">+</text><text x="149.5" y="739.28">+</text><text x="165" y="739.28">+</text><text x="122" y="750.78">+</text><text x="190.75" y="750.78">+</text><text x="205.75" y="750.78">+</text></g>
<g font-size="9.2" font-weight="bold" text-anchor="middle" fill="#000" stroke="#000" stroke-width="0.35"><text x="81.25" y="729.39">-</text><text x="149.5" y="729.39">-</text><text x="190.75" y="729.39">-</text><text x="81.25" y="738.64">-</text><text x="94.5" y="738.64">-</text><text x="122" y="738.64">-</text><text x="190.75" y="738.64">-</text><text x="205.75" y="738.64">-</text><text x="81.25" y="750.14">-</text><text x="94.5" y="750.14">-</text><text x="108.25" y="750.14">-</text><text x="149.5" y="750.14">-</text><text x="165" y="750.14">-</text></g>
</g>
<g id="panelC1">
<text x="377.2" y="555" font-size="13.4" font-weight="bold" text-anchor="start" fill="#000" textLength="75.8" lengthAdjust="spacingAndGlyphs">BCP-ALL(1)</text>
<text x="365" y="563.8" font-size="8.4" font-weight="bold" text-anchor="start" fill="#000" textLength="25.8" lengthAdjust="spacingAndGlyphs">DOXO</text>
<rect x="356.3" y="566.3" width="44.5" height="3.3" fill="#000"/>
<rect x="458.5" y="541.5" width="60.7" height="37.5" fill="#fff" stroke="#555" stroke-width="1"/>
<text x="467.7" y="559.2" font-size="14.3" font-weight="bold" text-anchor="start" fill="#000" textLength="40.5" lengthAdjust="spacingAndGlyphs">hERG1</text>
<text x="464.6" y="575" font-size="14.3" font-weight="bold" text-anchor="start" fill="#000" textLength="48.4" lengthAdjust="spacingAndGlyphs">MFI 21.8</text>
<path d="M381.8 658V613.8H408V627.5" stroke="#666" stroke-width="0.8" fill="none"/>
<text x="384.5" y="612.69" font-size="5.8" font-weight="normal" text-anchor="start" fill="#222" textLength="19.3" lengthAdjust="spacingAndGlyphs" font-style="italic" text-decoration="underline">P&lt;0.05</text>
<path d="M364.62 680V676.25M363.23 676.25H366.02" stroke="#a4a4a4" stroke-width="0.8" fill="none"/>
<rect x="358" y="680" width="13.25" height="38.2" fill="#fff" stroke="#222" stroke-width="1.1"/>
<path d="M377.88 693.75V689.25M376.48 689.25H379.27" stroke="#a4a4a4" stroke-width="0.8" fill="none"/>
<rect x="371.25" y="693.75" width="13.25" height="24.45" fill="#c6c6c6" stroke="#222" stroke-width="1.1"/>
<path d="M391.25 687V683.25M389.85 683.25H392.65" stroke="#3c3c3c" stroke-width="0.8" fill="none"/>
<rect x="384.5" y="687" width="13.5" height="31.2" fill="#111" stroke="#111" stroke-width="1.1"/>
<path d="M404.75 671.75V669.25M403.35 669.25H406.15" stroke="#3c3c3c" stroke-width="0.8" fill="none"/>
<rect x="398" y="671.75" width="13.5" height="46.45" fill="#111" stroke="#111" stroke-width="1.1"/>
<path d="M430.88 708.75V702.5M429.48 702.5H432.27" stroke="#a4a4a4" stroke-width="0.8" fill="none"/>
<rect x="424.25" y="708.75" width="13.25" height="9.45" fill="url(#hl2)" stroke="#222" stroke-width="1.1"/>
<path d="M444.38 696.25V693M442.98 693H445.77" stroke="#a4a4a4" stroke-width="0.8" fill="none"/>
<rect x="437.5" y="696.25" width="13.75" height="21.95" fill="url(#hd2)" stroke="#222" stroke-width="1.1"/>
<path d="M470.88 648V643M469.48 643H472.27" stroke="#a4a4a4" stroke-width="0.8" fill="none"/>
<rect x="464.25" y="648" width="13.25" height="70.2" fill="url(#hl2)" stroke="#222" stroke-width="1.1"/>
<path d="M484.38 681.25V677.5M482.98 677.5H485.77" stroke="#a4a4a4" stroke-width="0.8" fill="none"/>
<rect x="477.5" y="681.25" width="13.75" height="36.95" fill="url(#hd2)" stroke="#222" stroke-width="1.1"/>
<path d="M341.6 584.3V718.2H507.5v1.5" stroke="#444" stroke-width="1" fill="none"/>
<path d="M341.6 704.81h-1.3M341.6 691.42h-2.6M341.6 678.03h-1.3M341.6 664.64h-2.6M341.6 651.25h-1.3M341.6 637.86h-2.6M341.6 624.47h-1.3M341.6 611.08h-2.6M341.6 597.69h-1.3M341.6 584.3h-2.6" stroke="#444" stroke-width="0.9" fill="none"/>
<text x="338.2" y="721.32" font-size="11.5" font-weight="bold" text-anchor="end" fill="#000">0</text>
<text x="338.2" y="694.54" font-size="11.5" font-weight="bold" text-anchor="end" fill="#000">20</text>
<text x="338.2" y="667.76" font-size="11.5" font-weight="bold" text-anchor="end" fill="#000">40</text>
<text x="338.2" y="640.98" font-size="11.5" font-weight="bold" text-anchor="end" fill="#000">60</text>
<text x="338.2" y="614.2" font-size="11.5" font-weight="bold" text-anchor="end" fill="#000">80</text>
<text x="338.2" y="587.42" font-size="11.5" font-weight="bold" text-anchor="end" fill="#000">100</text>
<text transform="translate(323.7,694.6) rotate(-90)" font-size="9.9" font-weight="bold" textLength="98.1" lengthAdjust="spacingAndGlyphs">% Annnexin+/PI- cells</text>
<text x="321.2" y="735.75" font-size="8.8" font-weight="bold" text-anchor="start" fill="#000" textLength="22.6" lengthAdjust="spacingAndGlyphs">MSC</text>
<text x="343.8" y="745.5" font-size="8.8" font-weight="bold" text-anchor="end" fill="#000">E4031</text>
<text x="343.8" y="755.5" font-size="8.8" font-weight="bold" text-anchor="end" fill="#000">ERYTHRO</text>
<g font-size="10.17" font-weight="bold" text-anchor="middle" fill="#000" stroke="#000" stroke-width="0.35"><text x="376.75" y="736.41">+</text><text x="390.75" y="736.41">+</text><text x="404.5" y="736.41">+</text><text x="445.5" y="736.41">+</text><text x="487.5" y="736.41">+</text><text x="390.75" y="745.91">+</text><text x="428.75" y="745.91">+</text><text x="445.5" y="745.91">+</text></g>
<g font-size="10.35" font-weight="bold" text-anchor="middle" fill="#000" stroke="#000" stroke-width="0.35"><text x="361.25" y="735.69">-</text><text x="428.75" y="735.69">-</text><text x="470.5" y="735.69">-</text><text x="361.25" y="745.19">-</text><text x="376.75" y="745.19">-</text><text x="404.5" y="745.19">-</text><text x="470.5" y="745.19">-</text><text x="487.5" y="745.19">-</text></g>
<g font-size="10.17" font-weight="bold" text-anchor="middle" fill="#000" stroke="#000" stroke-width="0.35"><text x="376.75" y="755.41">+</text><text x="443" y="755.41">+</text><text x="460" y="755.41">+</text></g>
<g font-size="10.35" font-weight="bold" text-anchor="middle" fill="#000" stroke="#000" stroke-width="0.35"><text x="349.25" y="754.69">-</text><text x="363.25" y="754.69">-</text><text x="401.5" y="754.69">-</text><text x="418" y="754.69">-</text></g>
</g>
<g id="panelC5">
<text x="97.2" y="793" font-size="13.4" font-weight="bold" text-anchor="start" fill="#000" textLength="76.1" lengthAdjust="spacingAndGlyphs">BCP-ALL(5)</text>
<text x="94" y="801.8" font-size="8.4" font-weight="bold" text-anchor="start" fill="#000" textLength="26" lengthAdjust="spacingAndGlyphs">DOXO</text>
<rect x="85.8" y="803.8" width="44.1" height="3.3" fill="#000"/>
<rect x="181.5" y="789.2" width="60.8" height="37" fill="#fff" stroke="#555" stroke-width="1"/>
<text x="191" y="806.2" font-size="14.3" font-weight="bold" text-anchor="start" fill="#000" textLength="40.5" lengthAdjust="spacingAndGlyphs">hERG1</text>
<text x="187" y="822.8" font-size="14.3" font-weight="bold" text-anchor="start" fill="#000" textLength="49.5" lengthAdjust="spacingAndGlyphs">MFI 19.6</text>
<path d="M100.8 912.5V868.3H126.3V882" stroke="#666" stroke-width="0.8" fill="none"/>
<text x="103.3" y="867.59" font-size="5.8" font-weight="normal" text-anchor="start" fill="#222" textLength="18" lengthAdjust="spacingAndGlyphs" font-style="italic" text-decoration="underline">P&lt;0.05</text>
<path d="M82.88 919.25V916.25M81.47 916.25H84.28" stroke="#a4a4a4" stroke-width="0.8" fill="none"/>
<rect x="76.25" y="919.25" width="13.25" height="35.85" fill="#fff" stroke="#222" stroke-width="1.1"/>
<path d="M96 929.5V927M94.6 927H97.4" stroke="#a4a4a4" stroke-width="0.8" fill="none"/>
<rect x="89.5" y="929.5" width="13" height="25.6" fill="#c6c6c6" stroke="#222" stroke-width="1.1"/>
<path d="M109.12 930.75V928M107.72 928H110.53" stroke="#3c3c3c" stroke-width="0.8" fill="none"/>
<rect x="102.5" y="930.75" width="13.25" height="24.35" fill="#111" stroke="#111" stroke-width="1.1"/>
<path d="M122.62 910.75V905M121.22 905H124.03" stroke="#3c3c3c" stroke-width="0.8" fill="none"/>
<rect x="115.75" y="910.75" width="13.75" height="44.35" fill="#111" stroke="#111" stroke-width="1.1"/>
<path d="M149.62 918V916.5M148.22 916.5H151.03" stroke="#a4a4a4" stroke-width="0.8" fill="none"/>
<rect x="143" y="918" width="13.25" height="37.1" fill="url(#hl2)" stroke="#222" stroke-width="1.1"/>
<path d="M162.88 934.5V933M161.47 933H164.28" stroke="#a4a4a4" stroke-width="0.8" fill="none"/>
<rect x="156.25" y="934.5" width="13.25" height="20.6" fill="url(#hd2)" stroke="#222" stroke-width="1.1"/>
<path d="M189.38 924.25V922.5M187.97 922.5H190.78" stroke="#a4a4a4" stroke-width="0.8" fill="none"/>
<rect x="182.5" y="924.25" width="13.75" height="30.85" fill="url(#hl2)" stroke="#222" stroke-width="1.1"/>
<path d="M202.88 937.5V935M201.47 935H204.28" stroke="#a4a4a4" stroke-width="0.8" fill="none"/>
<rect x="196.25" y="937.5" width="13.25" height="17.6" fill="url(#hd2)" stroke="#222" stroke-width="1.1"/>
<path d="M59.3 820.7V955.1H226.3v1.5" stroke="#444" stroke-width="1" fill="none"/>
<path d="M59.3 941.66h-1.3M59.3 928.22h-2.6M59.3 914.78h-1.3M59.3 901.34h-2.6M59.3 887.9h-1.3M59.3 874.46h-2.6M59.3 861.02h-1.3M59.3 847.58h-2.6M59.3 834.14h-1.3M59.3 820.7h-2.6" stroke="#444" stroke-width="0.9" fill="none"/>
<text x="55.8" y="958.11" font-size="11.2" font-weight="bold" text-anchor="end" fill="#000">0</text>
<text x="55.8" y="931.23" font-size="11.2" font-weight="bold" text-anchor="end" fill="#000">20</text>
<text x="55.8" y="904.35" font-size="11.2" font-weight="bold" text-anchor="end" fill="#000">40</text>
<text x="55.8" y="877.47" font-size="11.2" font-weight="bold" text-anchor="end" fill="#000">60</text>
<text x="55.8" y="850.59" font-size="11.2" font-weight="bold" text-anchor="end" fill="#000">80</text>
<text x="55.8" y="823.71" font-size="11.2" font-weight="bold" text-anchor="end" fill="#000">100</text>
<text transform="translate(32.6,953.9) rotate(-90)" font-size="10.2" font-weight="bold" textLength="106.1" lengthAdjust="spacingAndGlyphs">% Annnexin+/PI- cells</text>
<text x="34.9" y="975" font-size="8.8" font-weight="bold" text-anchor="start" fill="#000" textLength="22.6" lengthAdjust="spacingAndGlyphs">MSC</text>
<text x="57.5" y="983.75" font-size="8.8" font-weight="bold" text-anchor="end" fill="#000">E4031</text>
<text x="57.5" y="993" font-size="8.8" font-weight="bold" text-anchor="end" fill="#000">ERYTHRO</text>
<g font-size="10.17" font-weight="bold" text-anchor="middle" fill="#000" stroke="#000" stroke-width="0.35"><text x="101.25" y="974.91">+</text><text x="115" y="974.91">+</text><text x="128.5" y="974.91">+</text><text x="167" y="974.91">+</text><text x="209.25" y="974.91">+</text><text x="115" y="984.16">+</text><text x="158.25" y="984.16">+</text><text x="167" y="984.16">+</text><text x="128.5" y="992.66">+</text><text x="200.5" y="992.66">+</text><text x="209.25" y="992.66">+</text></g>
<g font-size="10.35" font-weight="bold" text-anchor="middle" fill="#000" stroke="#000" stroke-width="0.35"><text x="85" y="974.19">-</text><text x="158.25" y="974.19">-</text><text x="200.5" y="974.19">-</text><text x="85" y="983.44">-</text><text x="101.25" y="983.44">-</text><text x="128.5" y="983.44">-</text><text x="200.5" y="983.44">-</text><text x="209.25" y="983.44">-</text><text x="85" y="991.94">-</text><text x="101.25" y="991.94">-</text><text x="115" y="991.94">-</text><text x="158.25" y="991.94">-</text><text x="167" y="991.94">-</text></g>
</g>
<g id="panelC6">
<text x="376.3" y="800.2" font-size="13.4" font-weight="bold" text-anchor="start" fill="#000" textLength="75.2" lengthAdjust="spacingAndGlyphs">BCP-ALL(6)</text>
<text x="375" y="810" font-size="8.4" font-weight="bold" text-anchor="start" fill="#000" textLength="25.8" lengthAdjust="spacingAndGlyphs">DOXO</text>
<rect x="360" y="812" width="50.8" height="3.5" fill="#000"/>
<rect x="456.2" y="786" width="60.3" height="38" fill="#fff" stroke="#555" stroke-width="1"/>
<text x="466.5" y="803.5" font-size="14.3" font-weight="bold" text-anchor="start" fill="#000" textLength="40.7" lengthAdjust="spacingAndGlyphs">hERG1</text>
<text x="462.8" y="818.5" font-size="14.3" font-weight="bold" text-anchor="start" fill="#000" textLength="49.5" lengthAdjust="spacingAndGlyphs">MFI 12.5</text>
<path d="M354.38 915V910.75M352.98 910.75H355.77" stroke="#a4a4a4" stroke-width="0.8" fill="none"/>
<rect x="347.5" y="915" width="13.75" height="40.4" fill="#fff" stroke="#222" stroke-width="1.1"/>
<path d="M367.88 927.5V924.25M366.48 924.25H369.27" stroke="#a4a4a4" stroke-width="0.8" fill="none"/>
<rect x="361.25" y="927.5" width="13.25" height="27.9" fill="#c6c6c6" stroke="#222" stroke-width="1.1"/>
<path d="M381.38 928.75V924.25M379.98 924.25H382.77" stroke="#3c3c3c" stroke-width="0.8" fill="none"/>
<rect x="374.5" y="928.75" width="13.75" height="26.65" fill="#111" stroke="#111" stroke-width="1.1"/>
<path d="M395.12 916.25V912.5M393.73 912.5H396.52" stroke="#3c3c3c" stroke-width="0.8" fill="none"/>
<rect x="388.25" y="916.25" width="13.75" height="39.15" fill="#111" stroke="#111" stroke-width="1.1"/>
<path d="M421.88 925V923.5M420.48 923.5H423.27" stroke="#a4a4a4" stroke-width="0.8" fill="none"/>
<rect x="415" y="925" width="13.75" height="30.4" fill="url(#hl2)" stroke="#222" stroke-width="1.1"/>
<path d="M435.62 945V944M434.23 944H437.02" stroke="#a4a4a4" stroke-width="0.8" fill="none"/>
<rect x="428.75" y="945" width="13.75" height="10.4" fill="url(#hd2)" stroke="#222" stroke-width="1.1"/>
<path d="M462.5 930.75V929M461.1 929H463.9" stroke="#a4a4a4" stroke-width="0.8" fill="none"/>
<rect x="455.5" y="930.75" width="14" height="24.65" fill="url(#hl2)" stroke="#222" stroke-width="1.1"/>
<path d="M476.38 939.25V936.5M474.98 936.5H477.77" stroke="#a4a4a4" stroke-width="0.8" fill="none"/>
<rect x="469.5" y="939.25" width="13.75" height="16.15" fill="url(#hd2)" stroke="#222" stroke-width="1.1"/>
<path d="M330.6 815.6V955.4H499.3v1.5" stroke="#444" stroke-width="1" fill="none"/>
<path d="M330.6 941.42h-1.3M330.6 927.44h-2.6M330.6 913.46h-1.3M330.6 899.48h-2.6M330.6 885.5h-1.3M330.6 871.52h-2.6M330.6 857.54h-1.3M330.6 843.56h-2.6M330.6 829.58h-1.3M330.6 815.6h-2.6" stroke="#444" stroke-width="0.9" fill="none"/>
<text x="326.8" y="958.59" font-size="11.7" font-weight="bold" text-anchor="end" fill="#000">0</text>
<text x="326.8" y="930.63" font-size="11.7" font-weight="bold" text-anchor="end" fill="#000">20</text>
<text x="326.8" y="902.67" font-size="11.7" font-weight="bold" text-anchor="end" fill="#000">40</text>
<text x="326.8" y="874.71" font-size="11.7" font-weight="bold" text-anchor="end" fill="#000">60</text>
<text x="326.8" y="846.75" font-size="11.7" font-weight="bold" text-anchor="end" fill="#000">80</text>
<text x="326.8" y="818.79" font-size="11.7" font-weight="bold" text-anchor="end" fill="#000">100</text>
<text transform="translate(309,943.3) rotate(-90)" font-size="8.9" font-weight="bold" textLength="92" lengthAdjust="spacingAndGlyphs">% Annnexin+/PI- cells</text>
<text x="304.9" y="975.75" font-size="8.8" font-weight="bold" text-anchor="start" fill="#000" textLength="22.6" lengthAdjust="spacingAndGlyphs">MSC</text>
<text x="327.5" y="984.25" font-size="8.8" font-weight="bold" text-anchor="end" fill="#000">E4031</text>
<text x="327.5" y="993.25" font-size="8.8" font-weight="bold" text-anchor="end" fill="#000">ERYTHRO</text>
<g font-size="9.04" font-weight="bold" text-anchor="middle" fill="#000" stroke="#000" stroke-width="0.35"><text x="370.75" y="975.53">+</text><text x="384.5" y="975.53">+</text><text x="398.25" y="975.53">+</text><text x="436.75" y="975.53">+</text><text x="478.75" y="975.53">+</text><text x="384.5" y="984.53">+</text><text x="428" y="984.53">+</text><text x="436.75" y="984.53">+</text><text x="398.25" y="993.53">+</text><text x="470" y="993.53">+</text><text x="478.75" y="993.53">+</text></g>
<g font-size="9.2" font-weight="bold" text-anchor="middle" fill="#000" stroke="#000" stroke-width="0.35"><text x="354.5" y="974.89">-</text><text x="428" y="974.89">-</text><text x="470" y="974.89">-</text><text x="354.5" y="983.89">-</text><text x="370.75" y="983.89">-</text><text x="398.25" y="983.89">-</text><text x="470" y="983.89">-</text><text x="478.75" y="983.89">-</text><text x="354.5" y="992.89">-</text><text x="370.75" y="992.89">-</text><text x="384.5" y="992.89">-</text><text x="428" y="992.89">-</text><text x="436.75" y="992.89">-</text></g>
</g>
</svg>
</body></html>
